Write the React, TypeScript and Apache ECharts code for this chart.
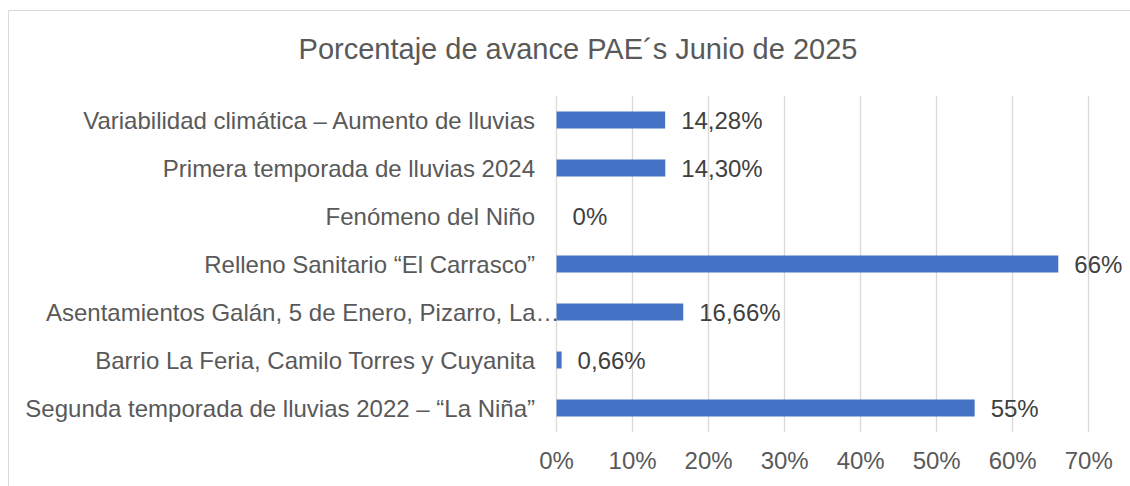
import React, { useEffect, useRef } from "react";
import * as echarts from "echarts";

const title = "Porcentaje de avance PAE´s Junio de 2025";
const categories = [
  "Variabilidad climática – Aumento de lluvias",
  "Primera temporada de lluvias 2024",
  "Fenómeno del Niño",
  "Relleno Sanitario “El Carrasco”",
  "Asentamientos Galán, 5 de Enero, Pizarro, La…",
  "Barrio La Feria, Camilo Torres y Cuyanita",
  "Segunda temporada de lluvias 2022 – “La Niña”",
];
const values = [14.28, 14.3, 0, 66, 16.66, 0.66, 55];
const valueLabels = ["14,28%", "14,30%", "0%", "66%", "16,66%", "0,66%", "55%"];
const xTicks = [0, 10, 20, 30, 40, 50, 60, 70];

const FONT = "'Liberation Sans', Arial, sans-serif";

export default function App() {
  const ref = useRef<HTMLDivElement>(null);
  useEffect(() => {
    document.body.style.margin = "0";
    const chart = echarts.init(ref.current!, null, { renderer: "svg" });
    chart.setOption({
      animation: false,
      backgroundColor: "#ffffff",
      textStyle: { fontFamily: FONT },
      title: {
        text: title,
        left: 573,
        textAlign: "center",
        top: 29,
        textStyle: { fontFamily: FONT, fontSize: 29, fontWeight: "normal", color: "#595959" },
      },
      graphic: [
        {
          type: "rect",
          shape: { x: 8.5, y: 10.5, width: 1300, height: 700 },
          style: { fill: "none", stroke: "#d9d9d9", lineWidth: 1 },
          silent: true,
        },
      ],
      grid: { left: 556.6, right: 41.3, top: 96, bottom: 54, containLabel: false },
      xAxis: {
        type: "value",
        min: xTicks[0],
        max: xTicks[xTicks.length - 1],
        interval: 10,
        axisLine: { show: false },
        axisTick: { show: false },
        splitLine: { show: true, lineStyle: { color: "#d9d9d9", width: 1.3 } },
        axisLabel: {
          formatter: (v: number) => v + "%",
          fontFamily: FONT,
          fontSize: 24,
          color: "#595959",
          margin: 16,
        },
      },
      yAxis: {
        type: "category",
        data: categories,
        inverse: true,
        axisLine: { show: false },
        axisTick: { show: false },
        axisLabel: {
          fontFamily: FONT,
          fontSize: 24,
          color: "#595959",
          margin: 21.6,
          formatter: (v: string) =>
            v.startsWith("Asentamientos") ? "{long|" + v + "}" : v,
          rich: {
            long: {
              fontFamily: FONT,
              fontSize: 24,
              color: "#595959",
              width: 489,
              align: "left",
            },
          },
        },
      },
      series: [
        {
          type: "bar",
          data: values,
          barWidth: 17,
          itemStyle: { color: "#4472C4" },
          label: {
            show: true,
            position: "right",
            distance: 16,
            fontFamily: FONT,
            fontSize: 24,
            color: "#404040",
            formatter: (p: any) => valueLabels[p.dataIndex],
          },
        },
      ],
    });
    return () => chart.dispose();
  }, []);
  return <div ref={ref} style={{ width: 1130, height: 486 }} />;
}
